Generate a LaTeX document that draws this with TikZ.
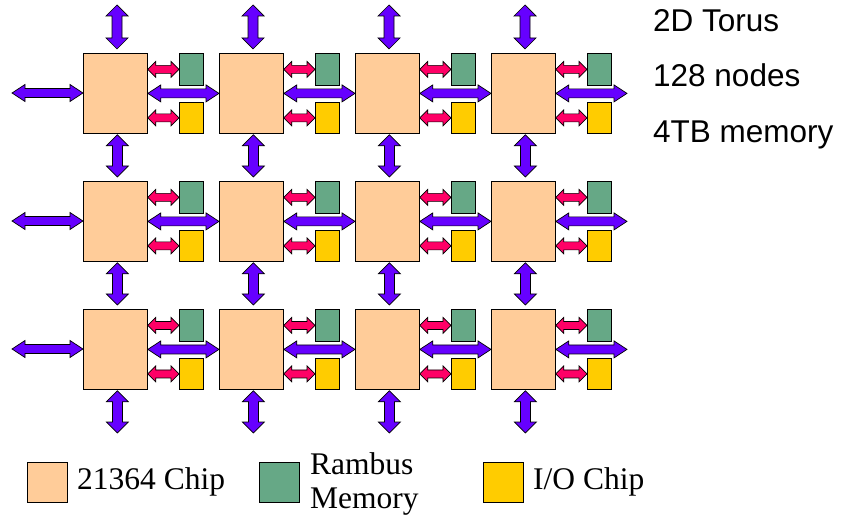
\documentclass[tikz,border=0pt]{standalone}
\usepackage{fontspec}
\setmainfont{Liberation Serif}
\newfontfamily\arialfont{Liberation Sans}
\usetikzlibrary{calc}
\definecolor{chipc}{HTML}{FFCC99}
\definecolor{memc}{HTML}{66A886}
\definecolor{ioc}{HTML}{FFCC00}
\definecolor{purp}{HTML}{6600FF}
\definecolor{redc}{HTML}{FF0066}
\tikzset{
  boxbase/.style={draw=black, line width=0.8pt, inner sep=0pt, anchor=north west},
  chipbox/.style={boxbase, fill=chipc, minimum width=64pt, minimum height=80pt},
  membox/.style={boxbase, fill=memc, minimum width=24pt, minimum height=32pt},
  iobox/.style={boxbase, fill=ioc, minimum width=24pt, minimum height=31pt},
  legbox/.style={boxbase, minimum width=40pt, minimum height=40pt},
  bigarrow/.style={draw=black, line width=0.7pt, fill=purp, line join=miter},
  smallarrow/.style={draw=black, line width=0.7pt, fill=redc, line join=miter},
  sanslabel/.style={anchor=base west, inner sep=0pt, font=\arialfont\fontsize{31.5}{36}\selectfont},
  seriflabel/.style={anchor=base west, inner sep=0pt, font=\fontsize{31.5}{36}\selectfont},
}
% horizontal double arrow: #1 style, #2 left end, #3 right end, #4 shaft half, #5 head half, #6 head length
\newcommand\harr[6]{%
  \draw[#1] let \p1=#2, \p2=#3 in
    (\x1,\y1) -- ++(#6,#5) -- ++(0pt,{#4-#5}) -- (\x2-#6,\y1+#4) -- ++(0pt,{#5-#4})
    -- (\x2,\y1) -- ++(-#6,-#5) -- ++(0pt,{#5-#4}) -- (\x1+#6,\y1-#4) -- ++(0pt,{#4-#5}) -- cycle;}
% vertical double arrow: #1 style, #2 top end, #3 bottom end, #4 shaft half, #5 head half, #6 head length
\newcommand\varr[6]{%
  \draw[#1] let \p1=#2, \p2=#3 in
    (\x1,\y1) -- ++(#5,-#6) -- ++({#4-#5},0pt) -- (\x1+#4,\y2+#6) -- ++({#5-#4},0pt)
    -- (\x1,\y2) -- ++(-#5,#6) -- ++({#5-#4},0pt) -- (\x1-#4,\y1-#6) -- ++({#4-#5},0pt) -- cycle;}
\begin{document}
\begin{tikzpicture}[x=1pt,y=-1pt]
\useasboundingbox (0,0) rectangle (843,521);
% nodes
\foreach \i in {0,...,3}{
  \foreach \j in {0,1,2}{
    \node[chipbox] (c\i\j) at ({83+136*\i},{53+128*\j}) {};
    \node[membox] (m\i\j) at ({179+136*\i},{53+128*\j}) {};
    \node[iobox] (o\i\j) at ({179+136*\i},{102+128*\j}) {};
  }
  \coordinate (t\i) at ({117+136*\i},5);
  \coordinate (b\i) at ({117+136*\i},433);
}
\foreach \j in {0,1,2}{
  \coordinate (l\j) at (12,{93+128*\j});
  \coordinate (r\j) at (627,{93+128*\j});
}
% horizontal links
\foreach \j in {0,1,2}{
  \harr{bigarrow}{(l\j)}{(c0\j.west)}{4.5pt}{8.5pt}{13pt}
  \foreach \i in {0,1,2}{
    \pgfmathtruncatemacro\k{\i+1}
    \harr{bigarrow}{(c\i\j.east)}{(c\k\j.west)}{4.5pt}{8.5pt}{13pt}
  }
  \harr{bigarrow}{(c3\j.east)}{(r\j)}{4.5pt}{8.5pt}{13pt}
  \foreach \i in {0,...,3}{
    \harr{smallarrow}{(c\i\j.east |- m\i\j.west)}{(m\i\j.west)}{4pt}{8pt}{8pt}
    \harr{smallarrow}{(c\i\j.east |- o\i\j.west)}{(o\i\j.west)}{4pt}{8pt}{8pt}
  }
}
% vertical links
\foreach \i in {0,...,3}{
  \varr{bigarrow}{(t\i)}{($(c\i0.north)+(2pt,4pt)$)}{5pt}{11pt}{11pt}
  \varr{bigarrow}{($(c\i0.south)+(2pt,-1pt)$)}{($(c\i1.north)+(2pt,4pt)$)}{5pt}{11pt}{11pt}
  \varr{bigarrow}{($(c\i1.south)+(2pt,-1pt)$)}{($(c\i2.north)+(2pt,4pt)$)}{5pt}{11pt}{11pt}
  \varr{bigarrow}{($(c\i2.south)+(2pt,-1pt)$)}{(b\i)}{5pt}{11pt}{11pt}
}
% side text
\node[sanslabel] (s1) at (653,32) {2D Torus};
\node[sanslabel] (s2) at (653,87) {128 nodes};
\node[sanslabel] (s3) at (653,143) {4TB memory};
% legend
\node[legbox, fill=chipc] (lg1) at (27,462) {};
\node[seriflabel] (lt1) at (77,489) {21364 Chip};
\node[legbox, fill=memc] (lg2) at (259,462) {};
\node[seriflabel] (lt2a) at (310,474) {Rambus};
\node[seriflabel] (lt2b) at (310,508) {Memory};
\node[legbox, fill=ioc] (lg3) at (483,462) {};
\node[seriflabel] (lt3) at (533,489) {I/O Chip};
\end{tikzpicture}
\end{document}
